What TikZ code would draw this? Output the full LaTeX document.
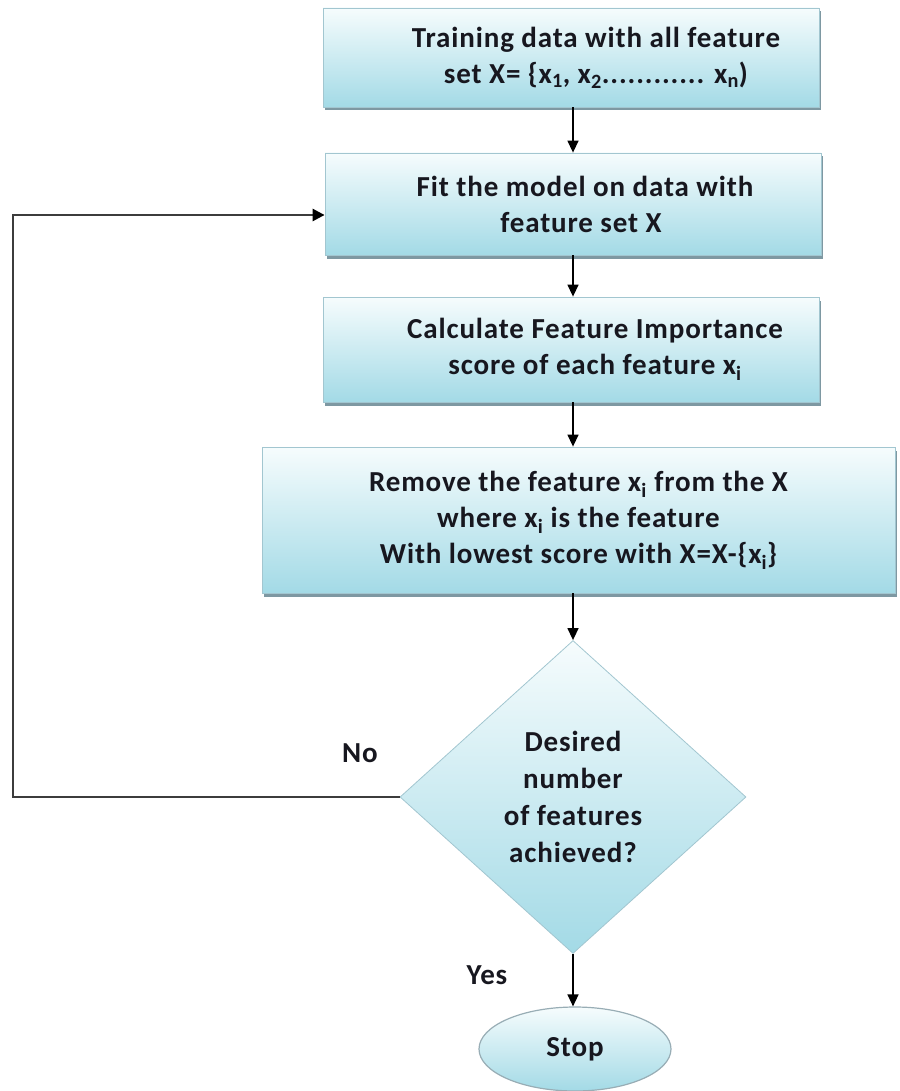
\documentclass[tikz,border=0pt]{standalone}
\usepackage{fontspec}
\setmainfont{Carlito}[LetterSpace=3]
\usetikzlibrary{shapes.geometric,arrows.meta,shadows}
\definecolor{boxtop}{HTML}{F6FCFD}
\definecolor{boxmid}{HTML}{DDF1F6}
\definecolor{boxbot}{HTML}{A3DAE6}
\definecolor{boxline}{HTML}{A2C6D0}
\definecolor{boxshadow}{HTML}{7E98A2}
\definecolor{ink}{HTML}{17171F}
\definecolor{loopline}{HTML}{3C3C3C}
\newcommand{\sub}[1]{\textsubscript{#1}}
% pushes a centred line to the right by half the given amount
\newcommand{\indentby}[1]{\hspace*{#1}}
\begin{document}
\begin{tikzpicture}[x=1pt,y=-1pt,
  font=\fontsize{29}{36}\selectfont\bfseries, text=ink,
  stepbox/.style={rectangle, draw=boxline, line width=0.8pt,
    top color=boxtop, middle color=boxmid, bottom color=boxbot,
    align=center, inner sep=0pt,
    drop shadow={shadow xshift=2pt, shadow yshift=-3.5pt, fill=boxshadow, opacity=1}},
  decision/.style={diamond, draw=boxline, line width=0.8pt,
    top color=boxtop, middle color=boxmid, bottom color=boxbot,
    inner sep=0pt, minimum width=346pt, minimum height=313pt},
  endcap/.style={ellipse, draw=boxshadow!80, line width=1.2pt,
    top color=boxtop, bottom color=boxbot, inner sep=0pt},
  flow/.style={draw=black, line width=1.4pt, -{Triangle[width=11pt,length=12pt]}},
  back/.style={draw=loopline, line width=2.6pt, -{Triangle[width=12pt,length=12pt,fill=black,color=black]}},
  tag/.style={inner sep=0pt}]
\useasboundingbox (0,0) rectangle (899,1091);

% process boxes
\node[stepbox, minimum width=496pt, minimum height=99pt] (b1) at (571,57.5)
  {\indentby{50pt}Training data with all feature\\
   \indentby{50pt}set X= \{x\sub{1}, x\sub{2}............ x\sub{n})};
\node[stepbox, minimum width=496pt, minimum height=102pt] (b2) at (573,204)
  {\indentby{24pt}Fit the model on data with\\\indentby{16pt}feature set X};
\node[stepbox, minimum width=496pt, minimum height=105pt] (b3) at (571,349.5)
  {\indentby{48pt}Calculate Feature Importance\\
   \indentby{48pt}score of each feature x\sub{i}};
\node[stepbox, minimum width=633pt, minimum height=146pt] (b4) at (578.5,520)
  {Remove the feature x\sub{i} from the X\\where x\sub{i} is the feature\\With lowest score with X=X-\{x\sub{i}\}};

% decision and terminal
\node[decision] (d) at (573,797) {};
\node[align=center, font=\fontsize{29}{37}\selectfont\bfseries] (dq) at (d.center)
  {Desired\\number\\of features\\achieved?};
\node[endcap, minimum width=192pt, minimum height=84pt] (stop) at (575,1049) {Stop};

% connectors
\draw[flow] (d.north |- b1.south) -- (d.north |- b2.north);
\draw[flow] (d.north |- b2.south) -- (d.north |- b3.north);
\draw[flow] (d.north |- b3.south) -- (d.north |- b4.north);
\draw[flow] (d.north |- b4.south) -- (d.north);
\draw[flow] (d.south) -- (d.south |- stop.north);

% loop back to the model fit
\coordinate (corner) at (13,797);
\draw[back] (d.west) -- (corner) |- ([yshift=-11pt]b2.west);

% branch labels
\node[tag] (no) at (360,753) {No};
\node[tag] (yes) at (487,975) {Yes};
\end{tikzpicture}
\end{document}
